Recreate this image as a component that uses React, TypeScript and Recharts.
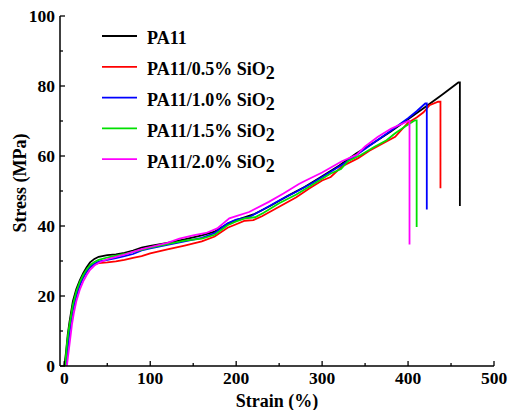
import { LineChart, Line, XAxis, YAxis, Legend, Label } from "recharts";

// tensile curves, strain (%) vs stress (MPa)
const pa11Strain = [0, 2, 4, 6, 8, 10, 14, 18, 22, 26, 30, 35, 40, 50, 60, 70, 80, 90, 100, 120, 140, 160, 175, 190, 200, 220, 240, 260, 280, 300, 320, 340, 360, 380, 400, 420, 440, 458.5, 460.3, 460.3];
const pa11Stress = [0, 4, 9, 12.5, 15.5, 18.5, 22, 24.5, 26.5, 28.2, 29.6, 30.6, 31.2, 31.7, 31.9, 32.3, 33, 33.8, 34.3, 35.2, 36.2, 37.3, 38.4, 40.6, 41.7, 43.3, 45.8, 48.6, 51.2, 54.2, 57.3, 60.8, 63.8, 67, 70.5, 74, 77.6, 81, 81, 45.7];

const si05Strain = [1.5, 4, 6, 8, 10, 14, 18, 22, 26, 30, 35, 40, 50, 60, 70, 80, 90, 100, 120, 140, 160, 175, 190, 200, 210, 220, 230, 250, 270, 285, 300, 310, 323, 342, 355, 370, 385, 400, 410, 418, 425, 435, 437.7, 437.7];
const si05Stress = [0, 7, 11, 14, 16.8, 20.5, 23.3, 25.5, 27, 28.2, 29, 29.4, 29.6, 29.9, 30.3, 30.9, 31.4, 32.2, 33.3, 34.4, 35.6, 37, 39.5, 40.5, 41.5, 41.7, 42.8, 45.5, 48.2, 50.7, 53, 54, 57, 59.4, 61.5, 63.5, 65.5, 69.5, 71, 72.5, 74.5, 75.5, 75.5, 50.8];

const si10Strain = [2, 4, 6, 8, 10, 14, 18, 22, 26, 30, 35, 40, 50, 60, 70, 80, 90, 100, 120, 140, 160, 175, 190, 200, 215, 230, 250, 270, 290, 310, 325, 340, 360, 380, 400, 410, 420, 421.8, 421.8];
const si10Stress = [0, 5, 9.5, 13, 16, 20, 23, 25.3, 27, 28.3, 29.2, 29.8, 30.3, 30.8, 31.4, 32, 33, 33.6, 34.6, 35.6, 36.6, 38, 40.8, 41.8, 42.5, 44.5, 47.3, 49.8, 52.5, 55.5, 57.8, 60.3, 63.8, 67.2, 70.8, 72.8, 75, 75, 44.7];

const si15Strain = [1, 3, 5, 8, 10, 14, 18, 22, 26, 30, 35, 40, 50, 60, 70, 80, 90, 100, 120, 140, 160, 175, 190, 200, 210, 222, 232, 250, 270, 290, 310, 322, 330, 345, 360, 375, 385, 397, 408, 410, 410];
const si15Stress = [0, 6, 10, 14.5, 17.5, 21.3, 24, 26, 27.6, 28.8, 29.7, 30.3, 31, 31.5, 32, 32.6, 33.2, 33.8, 34.8, 35.8, 36.4, 37.5, 40.2, 41.3, 42.2, 42.5, 43.8, 46.5, 49, 52, 55, 56.3, 58.5, 60.3, 62.5, 64.5, 66.5, 68.5, 70.2, 70.2, 39.7];

const si20Strain = [3, 5, 7, 9, 11, 14, 18, 22, 26, 30, 35, 40, 50, 60, 70, 80, 90, 100, 120, 134, 150, 165, 178, 192, 200, 215, 238, 255, 273, 281, 300, 323, 340, 350, 365, 380, 400.5, 401.7, 401.7];
const si20Stress = [0, 4, 8, 12, 15, 18.5, 21.8, 24.2, 26, 27.5, 28.7, 29.5, 30.5, 31.2, 31.8, 32.6, 33.4, 34, 35.2, 36.4, 37.3, 38, 39.3, 42.2, 42.8, 44, 46.9, 49.3, 52, 53, 55.3, 58.5, 60.3, 62.7, 65.5, 67.8, 70, 70, 34.7];

const seriesNames = ["PA11", "PA11/0.5% SiO2", "PA11/1.0% SiO2", "PA11/1.5% SiO2", "PA11/2.0% SiO2"];
const seriesColors = ["#000000", "#ff0000", "#0000ff", "#00e000", "#ff00ff"];
const strains = [pa11Strain, si05Strain, si10Strain, si15Strain, si20Strain];
const stresses = [pa11Stress, si05Stress, si10Stress, si15Stress, si20Stress];

const xTicks = [0, 50, 100, 150, 200, 250, 300, 350, 400, 450, 500];
const yTicks = [0, 10, 20, 30, 40, 50, 60, 70, 80, 90, 100];

const FONT = "'Liberation Serif', 'Times New Roman', serif";
const GAP = 8;

const series = seriesNames.map((name, i) => ({
  name,
  color: seriesColors[i],
  data: strains[i].map((x, j) => ({ x, y: stresses[i][j] })),
}));

function XTick(props: any) {
  const { x, y, payload } = props;
  const axisY = y - GAP;
  const major = payload.value % 100 === 0;
  return (
    <g>
      <line x1={x} x2={x} y1={axisY} y2={axisY - (major ? 5 : 3)} stroke="#000" strokeWidth={1.3} />
      {major && (
        <text x={x} y={axisY + 17.5} textAnchor="middle" fontFamily={FONT} fontWeight="bold" fontSize={17.5} fill="#000">
          {payload.value}
        </text>
      )}
    </g>
  );
}

function YTick(props: any) {
  const { x, y, payload } = props;
  const axisX = x + GAP;
  const major = payload.value % 20 === 0;
  return (
    <g>
      <line x1={axisX} x2={axisX + (major ? 5 : 3)} y1={y} y2={y} stroke="#000" strokeWidth={1.3} />
      {major && (
        <text x={axisX - 5} y={y} dy="0.35em" textAnchor="end" fontFamily={FONT} fontWeight="bold" fontSize={17.5} fill="#000">
          {payload.value}
        </text>
      )}
    </g>
  );
}

function withSub(name: string) {
  const m = name.match(/^(.*SiO)2$/);
  if (!m) return name;
  return (
    <>
      {m[1]}
      <tspan dy={4}>2</tspan>
    </>
  );
}

function LegendBox(props: any) {
  const items = props.payload || [];
  return (
    <svg width={300} height={180} style={{ display: "block" }}>
      {items.map((it: any, i: number) => {
        const ty = 38 + i * 30.8;
        return (
          <g key={i}>
            <line x1={102} x2={137} y1={ty - 2} y2={ty - 2} stroke={it.color} strokeWidth={1.8} />
            <text x={147} y={ty} dy="0.35em" fontFamily={FONT} fontWeight="bold" fontSize={18} fill="#000">
              {withSub(String(it.value))}
            </text>
          </g>
        );
      })}
    </svg>
  );
}

export default function App() {
  return (
    <div style={{ position: "absolute", left: 0, top: 0, width: 509, height: 410, background: "#fff" }}>
      <LineChart width={509} height={410} margin={{ top: 16, right: 15, bottom: 14, left: 0 }}>
        <XAxis
          xAxisId={0}
          type="number"
          dataKey="x"
          domain={[-5, 500]}
          ticks={xTicks}
          allowDataOverflow
          height={30}
          tickSize={0}
          tickMargin={GAP}
          tickLine={false}
          tick={<XTick />}
          interval={0}
          axisLine={{ stroke: "#000", strokeWidth: 1.5 }}
        >
          <Label
            content={(p: any) => {
              const vb = p.viewBox;
              return (
                <text x={vb.x + vb.width / 2} y={vb.y + 35} dy="0.35em" textAnchor="middle" fontFamily={FONT} fontWeight="bold" fontSize={18} fill="#000">
                  Strain (%)
                </text>
              );
            }}
          />
        </XAxis>
        <XAxis xAxisId="top" orientation="top" type="number" domain={[-5, 500]} height={0} tick={false} tickLine={false} axisLine={{ stroke: "#000", strokeWidth: 1.5 }} />
        <YAxis
          yAxisId={0}
          type="number"
          domain={[0, 100]}
          ticks={yTicks}
          width={60}
          tickSize={0}
          tickMargin={GAP}
          tickLine={false}
          tick={<YTick />}
          interval={0}
          axisLine={{ stroke: "#000", strokeWidth: 1.5 }}
        >
          <Label
            content={(p: any) => {
              const vb = p.viewBox;
              const cx = vb.x + 20;
              const cy = vb.y + vb.height / 2 - 8;
              return (
                <text x={cx} y={cy} dy="0.35em" textAnchor="middle" transform={`rotate(-90, ${cx}, ${cy})`} fontFamily={FONT} fontWeight="bold" fontSize={18} fill="#000">
                  Stress (MPa)
                </text>
              );
            }}
          />
        </YAxis>
        <YAxis yAxisId="right" orientation="right" type="number" domain={[0, 100]} width={0} tick={false} tickLine={false} axisLine={{ stroke: "#000", strokeWidth: 1.5 }} />
        <Legend
          layout="vertical"
          align="center"
          verticalAlign="middle"
          content={<LegendBox />}
          wrapperStyle={{ position: "absolute", left: 0, top: 0, width: 300, height: 180 }}
        />
        {series.map((s) => (
          <Line
            key={s.name}
            xAxisId={0}
            yAxisId={0}
            data={s.data}
            dataKey="y"
            name={s.name}
            type="linear"
            stroke={s.color}
            strokeWidth={1.8}
            dot={false}
            activeDot={false}
            isAnimationActive={false}
          />
        ))}
      </LineChart>
    </div>
  );
}
